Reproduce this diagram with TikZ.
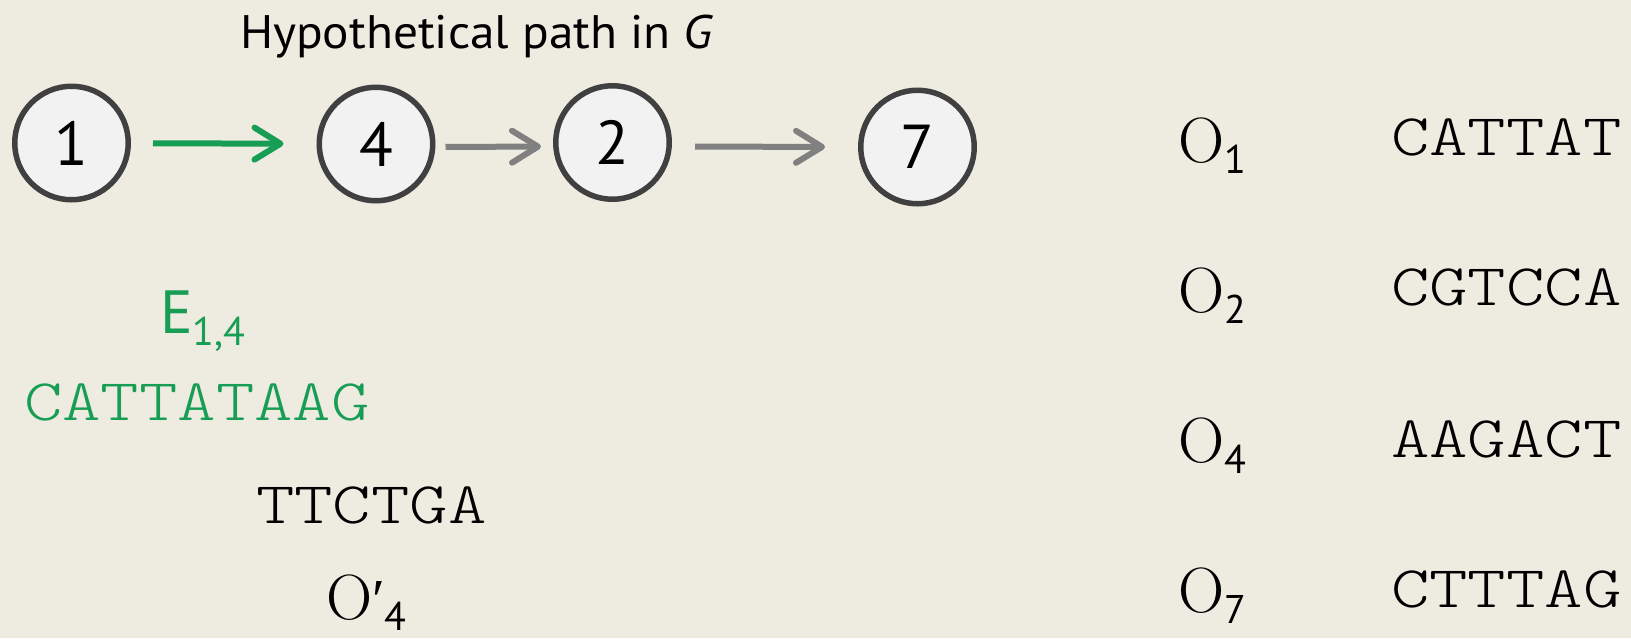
\documentclass[tikz,border=0pt]{standalone}
\usepackage{fontspec}
\usetikzlibrary{arrows.meta}
\newfontfamily\titlefont{PT Sans}
\newfontfamily\titlewide[FakeStretch=1.05]{PT Sans}
\newfontfamily\seqfont[FakeStretch=1.24]{Latin Modern Mono Light}
\newfontfamily\primefont{Liberation Serif}
\definecolor{bgcolor}{RGB}{238,235,225}
\definecolor{vfill}{RGB}{242,242,242}
\definecolor{vborder}{RGB}{64,64,64}
\definecolor{edgegray}{RGB}{128,128,128}
\definecolor{pathgreen}{RGB}{24,158,84}
\newcommand{\subsf}[2]{\raisebox{-#1}{\titlefont\fontsize{40}{40}\selectfont #2}}
\tikzset{
  vertex/.style={circle, draw=vborder, fill=vfill, line width=5.5pt, minimum size=113.5pt, inner sep=0pt, font=\titlefont\fontsize{62}{62}\selectfont},
  edgebase/.style={line width=6pt, -{Straight Barb[length=26pt,width=32pt,line width=6pt,line cap=round,line join=round]}},
  greenedge/.style={edgebase, draw=pathgreen},
  grayedge/.style={edgebase, draw=edgegray},
  txt/.style={anchor=base west, inner sep=0pt, outer sep=0pt},
  seq/.style={txt, font=\seqfont\fontsize{59}{59}\selectfont},
  oname/.style={txt, font=\fontsize{64}{64}\selectfont},
}
\begin{document}
\begin{tikzpicture}[x=1pt, y=-1pt]
\fill[bgcolor] (0,0) rectangle (1631,638);
\useasboundingbox (0,0) rectangle (1631,638);
% title
\node[txt, font=\titlewide\fontsize{47}{47}\selectfont] (title) at (240,48) {Hypothetical path in \textit{G}};
% vertices
\node[vertex] (n1) at (71.5,143) {1};
\node[vertex] (n4) at (376,144) {4};
\node[vertex] (n2) at (612.5,142.5) {2};
\node[vertex] (n7) at (917.5,147) {7};
% edges
\draw[greenedge, shorten <=22pt, shorten >=33pt] (n1) -- (n4);
\draw[grayedge, shorten <=10pt, shorten >=12pt] ([yshift=-3pt]n4.east) -- ([yshift=-4pt]n2.west);
\draw[grayedge, shorten <=23pt, shorten >=33pt] ([yshift=-4pt]n2.east) -- (n7.west);
% left texts
\node[txt, text=pathgreen, font=\titlefont\fontsize{61}{61}\selectfont] (e14) at (160,333) {E\subsf{12pt}{1,4}};
\node[seq, text=pathgreen] (eseq) at (24,420) {CATTATAAG};
\node[seq] (tseq) at (256,523) {TTCTGA};
\node[oname] (o4p) at (326,619) {O{\primefont\fontsize{58}{58}\selectfont ′}\subsf{11pt}{4}};
% right column
\node[oname] (o1) at (1178,162) {O\subsf{11pt}{1}};
\node[oname] (o2) at (1178,312) {O\subsf{11pt}{2}};
\node[oname] (o4) at (1178,462) {O\subsf{11pt}{4}};
\node[oname] (o7) at (1178,612) {O\subsf{11pt}{7}};
\node[seq] (s1) at (1391,155) {CATTAT};
\node[seq] (s2) at (1391,305) {CGTCCA};
\node[seq] (s4) at (1391,457) {AAGACT};
\node[seq] (s7) at (1391,607) {CTTTAG};
\end{tikzpicture}
\end{document}
